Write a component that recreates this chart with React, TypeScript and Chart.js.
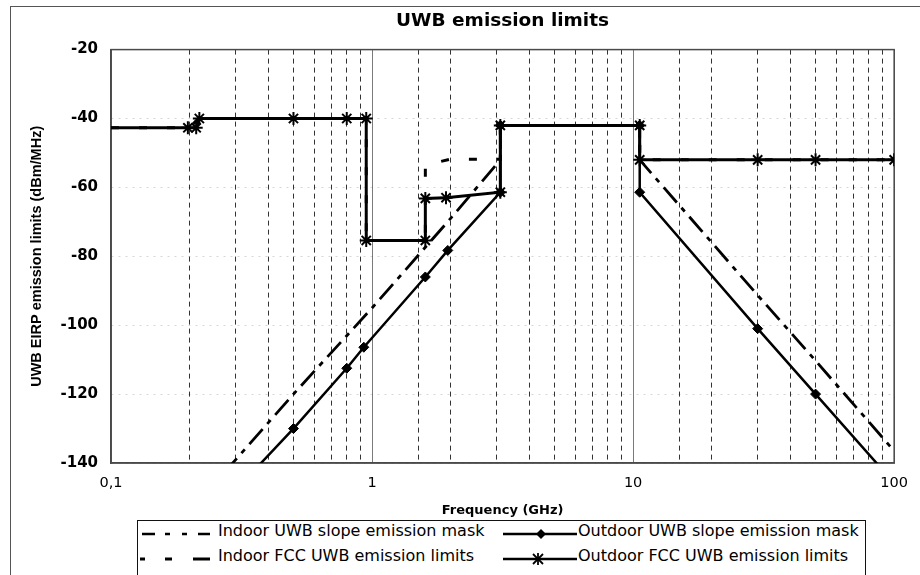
import React, { useEffect, useRef } from 'react';
import { Chart, registerables } from 'chart.js';

Chart.register(...registerables);

// ---------- text ----------
const CHART_TITLE = 'UWB emission limits';
const X_TITLE = 'Frequency (GHz)';
const Y_TITLE = 'UWB EIRP emission limits (dBm/MHz)';

// ---------- axes ----------
const X_MIN = 0.1;
const X_MAX = 100;
const X_DECADES = [0.1, 1, 10, 100];
const X_TICK_LABELS = ['0,1', '1', '10', '100'];
const Y_MIN = -140;
const Y_MAX = -20;
const Y_STEP = 20;

// ---------- series (frequency in GHz, level in dBm/MHz) ----------
const INDOOR_SLOPE_NAME = 'Indoor UWB slope emission mask';
const indoorSlopeFreq = [0.27, 0.5, 1, 2, 3.1, 3.1, 10.6, 10.6, 30, 50, 100];
const indoorSlopeLevel = [-143, -120, -95, -69, -52, -42, -42, -52, -91.3, -110.3, -136.5];

const OUTDOOR_SLOPE_NAME = 'Outdoor UWB slope emission mask';
const outdoorSlopeFreq = [0.35, 0.5, 0.8, 0.93, 1.6, 1.95, 3.1, 3.1, 10.6, 10.6, 30, 50, 100];
const outdoorSlopeLevel = [-142.5, -130, -112.5, -106.4, -86, -78.3, -61.4, -42, -42, -61.4, -101, -120, -145.8];

const INDOOR_FCC_NAME = 'Indoor FCC UWB emission limits';
const indoorFccFreq = [0.1, 0.2, 0.216, 0.95, 0.95, 1.6, 1.6, 2, 3.1, 3.1, 10.6, 10.6, 100];
const indoorFccLevel = [-42.7, -42.7, -40, -40, -75.4, -75.4, -53.5, -51.8, -51.8, -42, -42, -52, -52];

const OUTDOOR_FCC_NAME = 'Outdoor FCC UWB emission limits';
const outdoorFccFreq = [0.1, 0.197, 0.212, 0.218, 0.5, 0.8, 0.95, 0.95, 1.6, 1.6, 1.92, 3.1, 3.1, 10.6, 10.6, 30, 50, 100];
const outdoorFccLevel = [-42.7, -42.7, -42.7, -40, -40, -40, -40, -75.4, -75.4, -63.2, -63, -61.4, -42, -42, -52, -52, -52, -52];

const toPoints = (xs: number[], ys: number[]) => xs.map((x, i) => ({ x, y: ys[i] }));
const isDecade = (v: number) => {
  const l = Math.log10(v);
  return Math.abs(l - Math.round(l)) < 1e-6;
};
const decadeLabel = (v: number) => {
  const i = X_DECADES.findIndex((d) => Math.abs(d - v) / d < 1e-6);
  return i >= 0 ? X_TICK_LABELS[i] : '';
};

const inRange = (ctx: any) => {
  const p = ctx.raw as { y: number } | undefined;
  return !!p && p.y >= Y_MIN && p.y <= Y_MAX;
};

const framePlugin = {
  id: 'plotFrame',
  beforeDatasetsDraw(chart: any) {
    const { ctx, chartArea } = chart;
    ctx.save();
    ctx.strokeStyle = '#4a4a4a';
    ctx.lineWidth = 1.5;
    ctx.setLineDash([]);
    ctx.strokeRect(chartArea.left, chartArea.top, chartArea.right - chartArea.left, chartArea.bottom - chartArea.top);
    ctx.restore();
  },
};

const LEGEND_FONT = '16px "DejaVu Sans"';

function Legend() {
  const rowStyle = (row: number): React.CSSProperties => ({
    position: 'absolute',
    top: row * 25,
    height: 26,
    left: 0,
    right: 0,
  });
  const textStyle = (left: number): React.CSSProperties => ({
    position: 'absolute',
    left,
    top: 0,
    height: 26,
    lineHeight: '26px',
    font: LEGEND_FONT,
    color: '#000',
    whiteSpace: 'nowrap',
  });
  const svgStyle = (left: number): React.CSSProperties => ({ position: 'absolute', left, top: 8 });
  return (
    <div
      style={{
        position: 'absolute',
        left: 137,
        top: 520,
        width: 729,
        height: 56,
        border: '1.5px solid #111',
        boxSizing: 'border-box',
        background: '#fff',
      }}
    >
      <div style={rowStyle(0)}>
        <svg width={76} height={10} style={svgStyle(2)}>
          <line x1={2} y1={5} x2={70} y2={5} stroke="#000" strokeWidth={2.5} strokeDasharray="13 10 5 12 5 11 12" />
        </svg>
        <span style={textStyle(80)}>{INDOOR_SLOPE_NAME}</span>
        <svg width={76} height={10} style={svgStyle(365)}>
          <line x1={0} y1={5} x2={74} y2={5} stroke="#000" strokeWidth={2.5} />
          <polygon points="38,0 43,5 38,10 33,5" fill="#000" />
        </svg>
        <span style={textStyle(440)}>{OUTDOOR_SLOPE_NAME}</span>
      </div>
      <div style={rowStyle(1)}>
        <svg width={76} height={10} style={svgStyle(2)}>
          <line x1={0} y1={5} x2={70} y2={5} stroke="#000" strokeWidth={3} strokeDasharray="5 20 7 21 17" />
        </svg>
        <span style={textStyle(80)}>{INDOOR_FCC_NAME}</span>
        <svg width={76} height={12} style={{ position: 'absolute', left: 365, top: 7 }}>
          <line x1={0} y1={6} x2={74} y2={6} stroke="#000" strokeWidth={2.5} />
          <line x1={30} y1={1} x2={40} y2={11} stroke="#000" strokeWidth={1.8} />
          <line x1={30} y1={11} x2={40} y2={1} stroke="#000" strokeWidth={1.8} />
          <line x1={35} y1={0} x2={35} y2={12} stroke="#000" strokeWidth={1.8} />
        </svg>
        <span style={textStyle(440)}>{OUTDOOR_FCC_NAME}</span>
      </div>
    </div>
  );
}

export default function App() {
  const canvasRef = useRef<HTMLCanvasElement | null>(null);

  useEffect(() => {
    const canvas = canvasRef.current;
    if (!canvas) return;
    const chart = new Chart(canvas, {
      type: 'line',
      data: {
        datasets: [
          {
            label: OUTDOOR_FCC_NAME,
            data: toPoints(outdoorFccFreq, outdoorFccLevel),
            borderColor: '#000',
            borderWidth: 3,
            pointStyle: 'star',
            pointRadius: (ctx: any) => (ctx.dataIndex === 0 || !inRange(ctx) ? 0 : 6.5),
            pointBorderWidth: 2,
            pointBorderColor: '#000',
            pointBackgroundColor: '#000',
            fill: false,
            tension: 0,
          },
          {
            label: OUTDOOR_SLOPE_NAME,
            data: toPoints(outdoorSlopeFreq, outdoorSlopeLevel),
            borderColor: '#000',
            borderWidth: 2.5,
            pointStyle: 'rectRot',
            pointRadius: (ctx: any) => (inRange(ctx) ? 5 : 0),
            pointBorderWidth: 1,
            pointBorderColor: '#000',
            pointBackgroundColor: '#000',
            fill: false,
            tension: 0,
          },
          {
            label: INDOOR_SLOPE_NAME,
            data: toPoints(indoorSlopeFreq, indoorSlopeLevel),
            borderColor: '#000',
            borderWidth: 2.8,
            borderDash: [20, 7, 5, 7],
            pointRadius: 0,
            fill: false,
            tension: 0,
          },
          {
            label: INDOOR_FCC_NAME,
            data: toPoints(indoorFccFreq, indoorFccLevel),
            borderColor: '#000',
            borderWidth: 3,
            borderDash: [8, 20],
            pointRadius: 0,
            fill: false,
            tension: 0,
          },
        ],
      },
      options: {
        animation: false,
        responsive: false,
        events: [],
        layout: { padding: { left: 0, right: 25, top: 0, bottom: 52 } },
        plugins: {
          legend: { display: false },
          tooltip: { enabled: false },
          title: {
            display: true,
            text: CHART_TITLE,
            fullSize: false,
            color: '#000',
            font: { family: 'DejaVu Sans', size: 18.5, weight: 'bold' },
            padding: { top: 10, bottom: 17.4 },
          },
        },
        scales: {
          x: {
            type: 'logarithmic',
            position: 'bottom',
            min: X_MIN,
            max: X_MAX,
            grid: {
              color: (c: any) => (c.tick && isDecade(c.tick.value) ? 'rgba(0,0,0,0)' : '#333'),
              lineWidth: 1,
              drawTicks: false,
            },
            border: { display: true, color: '#4a4a4a', width: 1.5, dash: [5, 4] },
            ticks: {
              autoSkip: false,
              maxRotation: 0,
              padding: 12,
              color: '#000',
              font: { family: 'DejaVu Sans', size: 14.5 },
              callback: (v: any) => decadeLabel(Number(v)),
            },
            title: {
              display: true,
              text: X_TITLE,
              color: '#000',
              font: { family: 'DejaVu Sans', size: 13, weight: 'bold' },
              padding: { top: 0, bottom: 5 },
            },
            afterFit: (s: any) => {
              s.height = 60;
            },
          },
          xMajor: {
            type: 'logarithmic',
            position: 'bottom',
            min: X_MIN,
            max: X_MAX,
            grid: { color: '#7a7a7a', lineWidth: 1, drawTicks: false },
            border: { display: false },
            ticks: { display: false, autoSkip: false },
            afterBuildTicks: (s: any) => {
              s.ticks = s.ticks.filter((t: any) => isDecade(t.value));
            },
            afterFit: (s: any) => {
              s.height = 0;
            },
          },
          y: {
            type: 'linear',
            min: Y_MIN,
            max: Y_MAX,
            grid: { color: 'rgba(0,0,0,0.16)', lineWidth: 1, drawTicks: false },
            border: { display: true, color: '#4a4a4a', width: 1.5, dash: [2, 5] },
            ticks: {
              stepSize: Y_STEP,
              padding: 13,
              color: '#000',
              font: { family: 'DejaVu Sans', size: 15, weight: 'bold' },
              callback: (v: any) => String(v),
            },
            title: {
              display: true,
              text: Y_TITLE,
              color: '#000',
              font: { family: 'Liberation Sans', size: 14.5, weight: 'bold' },
              padding: { top: 28, bottom: 0 },
            },
            afterFit: (s: any) => {
              s.width = 111;
            },
          },
        },
      } as any,
      plugins: [framePlugin],
    });
    return () => chart.destroy();
  }, []);

  return (
    <div
      style={{
        position: 'absolute',
        left: 0,
        top: 0,
        width: 920,
        height: 575,
        background: '#fff',
        overflow: 'hidden',
      }}
    >
      <div
        style={{
          position: 'absolute',
          left: 10,
          top: 6,
          width: 910,
          height: 569,
          borderTop: '1px solid #555',
          borderLeft: '1px solid #555',
        }}
      />
      <canvas
        ref={canvasRef}
        width={920}
        height={575}
        style={{ position: 'absolute', left: 0, top: 0, display: 'block' }}
      />
      <Legend />
    </div>
  );
}
